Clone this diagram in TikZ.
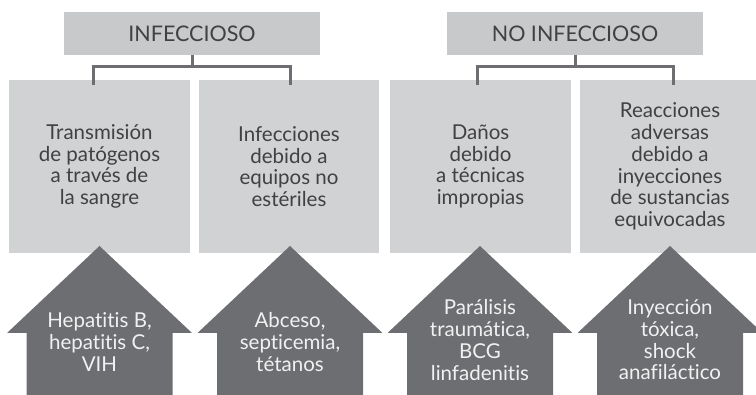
\documentclass[tikz,border=0pt]{standalone}
\usepackage{fontspec}
\setmainfont{Lato}[Ligatures=NoCommon]
\definecolor{topgray}{HTML}{C8C9CB}
\definecolor{boxgray}{HTML}{D1D2D4}
\definecolor{darkgray}{HTML}{6D6E71}
\definecolor{txtgray}{HTML}{414042}
\definecolor{txtwhite}{HTML}{F1F1F2}
\tikzset{
  topbox/.style={fill=topgray, draw=none, minimum width=256pt, minimum height=43pt, inner sep=0pt,
    text=txtgray, font=\fontsize{21.5}{24}\selectfont},
  midbox/.style={fill=boxgray, draw=none, minimum width=181pt, minimum height=173pt, inner sep=0pt,
    text=txtgray, align=center, font=\fontsize{20.5}{21.7}\selectfont},
  conn/.style={draw=darkgray, line width=3pt},
  house/.style={fill=darkgray, draw=none},
  housetext/.style={text=txtwhite, align=center, font=\fontsize{20.5}{21.7}\selectfont, inner sep=0pt},
}
\newcommand{\housepath}[1]{%
  \fill[house] (#1,246) -- ++(92.5,87) -- ++(-19.5,0) -- ++(0,70) -- ++(-146,0) -- ++(0,-70) -- ++(-19.5,0) -- cycle;}
\begin{document}
\begin{tikzpicture}[x=1pt,y=-1pt]
\useasboundingbox (0,0) rectangle (756,395);
% top boxes
\node[topbox] (t1) at (192,33.5) {INFECCIOSO};
\node[topbox] (t2) at (575,33.5) {NO INFECCIOSO};
% middle boxes
\node[midbox] (b1) at (99.5,166.5) {Transmisión\\de patógenos\\a través de\\la sangre};
\node[midbox, minimum width=180pt] (b2) at (289,166.5) {Infecciones\\debido a\\equipos no\\estériles};
\node[midbox] (b3) at (480.5,166.5) {Daños\\debido\\a técnicas\\impropias};
\node[midbox, minimum width=180pt] (b4) at (670,166.5) {Reacciones\\adversas\\debido a\\inyecciones\\de sustancias\\equivocadas};
% connectors
\coordinate (j1) at (192,66.5);
\coordinate (d1) at (93,85);
\coordinate (d2) at (290,85);
\draw[conn] (t1.south) -- (j1);
\draw[conn] (d1) |- (j1) -| (d2);
\coordinate (j2) at (575,66.5);
\coordinate (d3) at (477,85);
\coordinate (d4) at (673,85);
\draw[conn] (t2.south) -- (j2);
\draw[conn] (d3) |- (j2) -| (d4);
% house arrows
\housepath{99.5}
\housepath{290}
\housepath{480}
\housepath{670}
\node[housetext] (h1) at (99.5,342) {Hepatitis B,\\hepatitis C,\\VIH};
\node[housetext] (h2) at (290,342) {Abceso,\\septicemia,\\tétanos};
\node[housetext] (h3) at (480,340) {Parálisis\\traumática,\\BCG\\linfadenitis};
\node[housetext] (h4) at (670,340) {Inyección\\tóxica,\\shock\\anafiláctico};
\end{tikzpicture}
\end{document}
